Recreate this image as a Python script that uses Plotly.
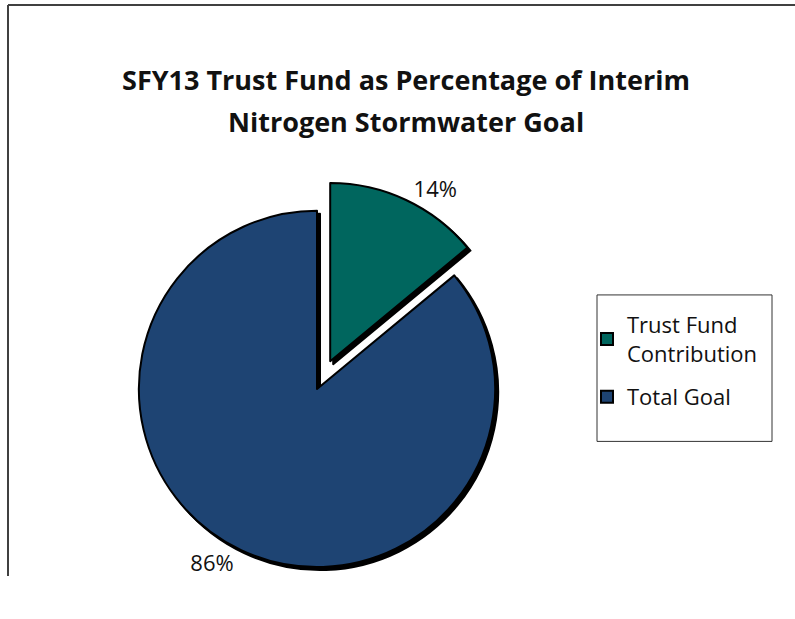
import math
import plotly.graph_objects as go

labels = ["Trust Fund<br>Contribution", "Total Goal"]
values = [14, 86]
colors = ["#00665e", "#1e4473"]
title_line1 = "SFY13 Trust Fund as Percentage of Interim"
title_line2 = "Nitrogen Stormwater Goal"

# the page renders the figure 795 wide and 582 tall
W, H = 795, 582
FONT = "Open Sans"
CLEAR = "rgba(0,0,0,0)"

# pie geometry (pixels)
cx, cy, radius = 317, 393, 180
pull_px = 31          # how far the first slice is pulled out
shadow = 3
box = radius * 2

# direction of the pulled slice, from its share of the total
mid = 2 * math.pi * (values[0] / 2) / sum(values)
dx, dy = pull_px * math.sin(mid), -pull_px * math.cos(mid)


def dom(cxp, cyp):
    yb = H - cyp
    return dict(x=[(cxp - box / 2) / W, (cxp + box / 2) / W],
                y=[(yb - box / 2) / H, (yb + box / 2) / H])


def px(x):
    return x / W


def py(y):
    return 1 - y / H


def slice_trace(show_idx, center, fill, line, text):
    cols = [fill if i == show_idx else CLEAR for i in range(len(values))]
    lcols = [line if i == show_idx else CLEAR for i in range(len(values))]
    tt = ["%{percent:.0%}" if (text and i == show_idx) else "" for i in range(len(values))]
    return go.Pie(
        labels=labels, values=values, sort=False, direction="clockwise", rotation=0,
        domain=dom(*center), showlegend=False,
        marker=dict(colors=cols, line=dict(color=lcols, width=2)),
        texttemplate=tt, textposition="outside",
        outsidetextfont=dict(family=FONT, size=22, color="#111111"),
        hoverinfo="skip" if not text else "label+percent",
    )


fig = go.Figure()

# legend carriers (tiny, hidden under the pie), one group per category
for i in range(len(labels)):
    fig.add_trace(go.Pie(
        labels=[labels[i]], values=[values[i]], sort=False,
        domain=dict(x=[px(cx - 60), px(cx - 59)], y=[py(cy + 60), py(cy + 59)]),
        marker=dict(colors=[colors[i]], line=dict(color="#000000", width=1)),
        textinfo="none", hoverinfo="skip", showlegend=True, legendgroup=f"g{i}",
    ))

# shadows
fig.add_trace(slice_trace(1, (cx + shadow, cy + shadow), "#000000", "#000000", False))
fig.add_trace(slice_trace(0, (cx + dx + shadow, cy + dy + shadow), "#000000", "#000000", False))
# visible slices
fig.add_trace(slice_trace(1, (cx, cy), colors[1], "#000000", True))
fig.add_trace(slice_trace(0, (cx + dx, cy + dy), colors[0], "#000000", True))

fig.update_layout(
    width=W, height=H,
    margin=dict(l=0, r=0, t=0, b=0),
    paper_bgcolor="white", plot_bgcolor="white",
    font=dict(family=FONT, color="#111111"),
    title=dict(text=title_line1, x=px(406), y=py(81), xanchor="center", yanchor="middle",
               xref="container", yref="container",
               font=dict(family=FONT, size=27, color="#111111", weight="bold")),
    annotations=[dict(text=title_line2, x=px(406), y=py(123), xref="paper", yref="paper",
                      xanchor="center", yanchor="middle", showarrow=False,
                      font=dict(family=FONT, size=27, color="#111111", weight="bold"))],
    legend=dict(x=px(587), y=py(307), xanchor="left", yanchor="top",
                borderwidth=0, bgcolor=CLEAR,
                font=dict(family=FONT, size=22, color="#111111"),
                itemsizing="constant", itemwidth=30, tracegroupgap=12),
    showlegend=True,
    shapes=[
        dict(type="line", xref="paper", yref="paper", x0=px(8), y0=py(5), x1=1, y1=py(5),
             line=dict(color="#404040", width=2)),
        dict(type="line", xref="paper", yref="paper", x0=px(8), y0=py(5), x1=px(8), y1=0,
             line=dict(color="#404040", width=2)),
        dict(type="rect", xref="paper", yref="paper", x0=px(597), y0=py(298), x1=px(772), y1=py(446),
             line=dict(color="#333333", width=1), fillcolor=CLEAR, layer="below"),
    ],
)

post = (
    "var s=document.createElement('style');"
    "s.textContent='html,body{margin:0;padding:0;}';"
    "document.head.appendChild(s);"
)
fig.write_html("out.html", config={"displayModeBar": False}, post_script=post)
